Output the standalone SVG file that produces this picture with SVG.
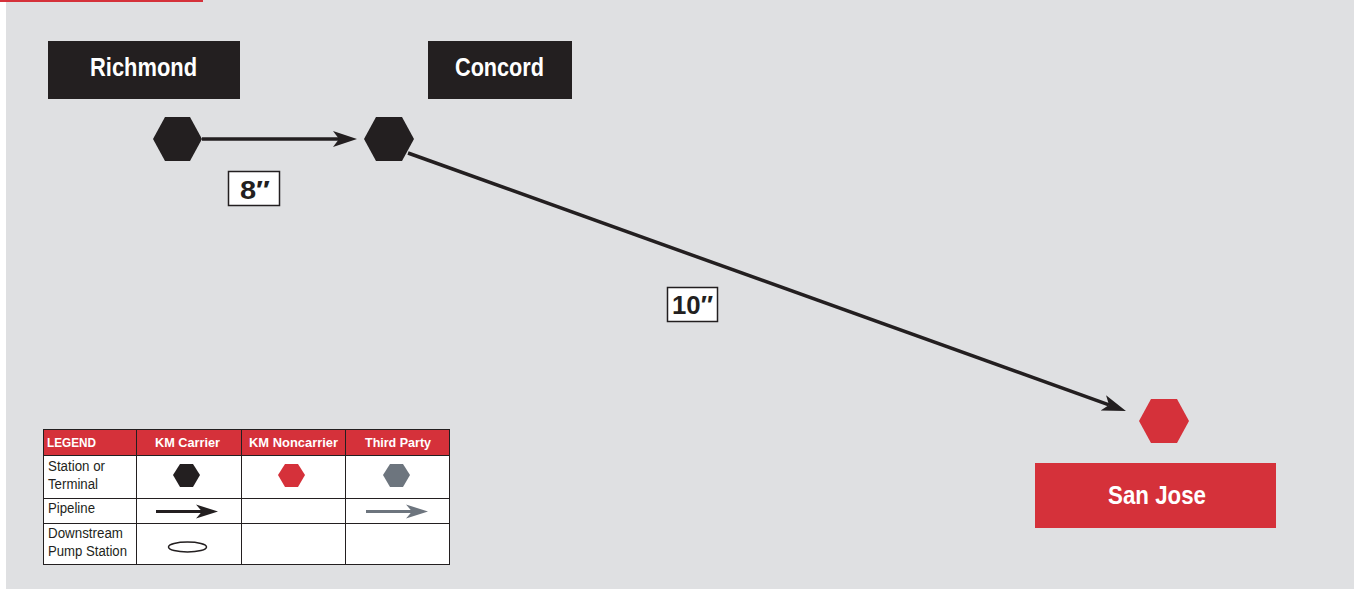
<svg xmlns="http://www.w3.org/2000/svg" width="1354" height="590" viewBox="0 0 1354 590">
<style>
.lbl{font-family:"Liberation Sans",Arial,sans-serif;font-weight:bold;fill:#ffffff;text-anchor:middle}
.size{font-family:"Liberation Sans",Arial,sans-serif;font-weight:bold;fill:#231f20;font-size:25px;text-anchor:middle}
.hd{font-family:"Liberation Sans",Arial,sans-serif;font-weight:bold;fill:#ffffff;font-size:13px}
.rw{font-family:"Liberation Sans",Arial,sans-serif;fill:#231f20;font-size:14px}
.pipe{stroke:#231f20;stroke-width:3.5;fill:none}
.grid{stroke:#231f20;stroke-width:1;fill:none}
</style>
<defs>
<marker id="ah" markerUnits="userSpaceOnUse" markerWidth="26" markerHeight="20" viewBox="0 0 26 20" refX="6" refY="10" orient="auto">
<path d="M0,2 L24,10 L0,18 L6,10 Z" fill="#231f20"/>
</marker>
<marker id="ahs" markerUnits="userSpaceOnUse" markerWidth="24" markerHeight="18" viewBox="0 0 24 18" refX="6" refY="9" orient="auto">
<path d="M0,2 L22,9 L0,16 L6,9 Z" fill="#231f20"/>
</marker>
<marker id="ahg" markerUnits="userSpaceOnUse" markerWidth="24" markerHeight="18" viewBox="0 0 24 18" refX="6" refY="9" orient="auto">
<path d="M0,2 L22,9 L0,16 L6,9 Z" fill="#6d757e"/>
</marker>
</defs>
<rect x="0" y="0" width="1354" height="590" fill="#ffffff"/>
<rect x="6" y="0" width="1348" height="589" fill="#dfe0e2"/>
<rect x="0" y="0" width="203" height="2" fill="#d5313a"/>

<g id="connectors">
<line class="pipe" x1="202" y1="139" x2="339" y2="139" marker-end="url(#ah)"/>
<line class="pipe" x1="408" y1="153" x2="1109" y2="404.9" marker-end="url(#ah)"/>
</g>

<g id="richmond">
<rect x="48" y="41" width="192" height="58" fill="#231f20"/>
<text class="lbl" x="143.5" y="76" font-size="26" textLength="107" lengthAdjust="spacingAndGlyphs">Richmond</text>
<polygon points="153,139 165,117 190,117 202,139 190,161 165,161" fill="#231f20"/>
</g>

<g id="concord">
<rect x="428" y="41" width="144" height="58" fill="#231f20"/>
<text class="lbl" x="499.5" y="76" font-size="26" textLength="89" lengthAdjust="spacingAndGlyphs">Concord</text>
<polygon points="364,139 376,117 402,117 414,139 402,161 376,161" fill="#231f20"/>
</g>

<g id="sanjose">
<polygon points="1139,421 1151,399 1177,399 1189,421 1177,443 1151,443" fill="#d5313a"/>
<rect x="1035" y="463" width="241" height="65" fill="#d5313a"/>
<text class="lbl" x="1157" y="504" font-size="25" textLength="98" lengthAdjust="spacingAndGlyphs">San Jose</text>
</g>

<g id="label-8">
<rect x="228.5" y="171.5" width="51" height="34" fill="#ffffff" stroke="#231f20" stroke-width="1.5"/>
<text class="size" x="255" y="199" textLength="30" lengthAdjust="spacingAndGlyphs">8″</text>
</g>

<g id="label-10">
<rect x="667.5" y="287.5" width="50" height="34" fill="#ffffff" stroke="#231f20" stroke-width="1.5"/>
<text class="size" x="692.5" y="314" textLength="41" lengthAdjust="spacingAndGlyphs">10″</text>
</g>

<g id="legend">
<rect x="43" y="429" width="407" height="136" fill="#ffffff"/>
<rect x="43" y="429" width="407" height="26" fill="#d5313a"/>
<rect class="grid" x="43.5" y="429.5" width="406" height="135"/>
<line class="grid" x1="43" y1="455.5" x2="450" y2="455.5"/>
<line class="grid" x1="43" y1="498.5" x2="450" y2="498.5"/>
<line class="grid" x1="43" y1="523.5" x2="450" y2="523.5"/>
<line class="grid" x1="136.5" y1="429" x2="136.5" y2="565"/>
<line class="grid" x1="241.5" y1="429" x2="241.5" y2="565"/>
<line class="grid" x1="345.5" y1="429" x2="345.5" y2="565"/>
<text class="hd" x="47" y="447" textLength="49" lengthAdjust="spacingAndGlyphs">LEGEND</text>
<text class="hd" x="155" y="447" textLength="65" lengthAdjust="spacingAndGlyphs">KM Carrier</text>
<text class="hd" x="249" y="447" textLength="89" lengthAdjust="spacingAndGlyphs">KM Noncarrier</text>
<text class="hd" x="365" y="447" textLength="66" lengthAdjust="spacingAndGlyphs">Third Party</text>
<text class="rw" x="48" y="471" textLength="57" lengthAdjust="spacingAndGlyphs">Station or</text>
<text class="rw" x="48" y="489" textLength="50" lengthAdjust="spacingAndGlyphs">Terminal</text>
<text class="rw" x="48" y="513" textLength="47" lengthAdjust="spacingAndGlyphs">Pipeline</text>
<text class="rw" x="48" y="538" textLength="75" lengthAdjust="spacingAndGlyphs">Downstream</text>
<text class="rw" x="48" y="556" textLength="79" lengthAdjust="spacingAndGlyphs">Pump Station</text>
<polygon points="173,475 180,464 193,464 200,475 193,487 180,487" fill="#231f20"/>
<polygon points="278,475 285,464 298,464 305,475 298,487 285,487" fill="#d5313a"/>
<polygon points="383,475 390,464 403,464 410,475 403,487 390,487" fill="#6d757e"/>
<line x1="156" y1="511.5" x2="202" y2="511.5" stroke="#231f20" stroke-width="3" marker-end="url(#ahs)"/>
<line x1="366" y1="511.5" x2="412" y2="511.5" stroke="#6d757e" stroke-width="3" marker-end="url(#ahg)"/>
<ellipse cx="187.5" cy="547" rx="19" ry="5" fill="#ffffff" stroke="#231f20" stroke-width="1.5"/>
</g>
</svg>
